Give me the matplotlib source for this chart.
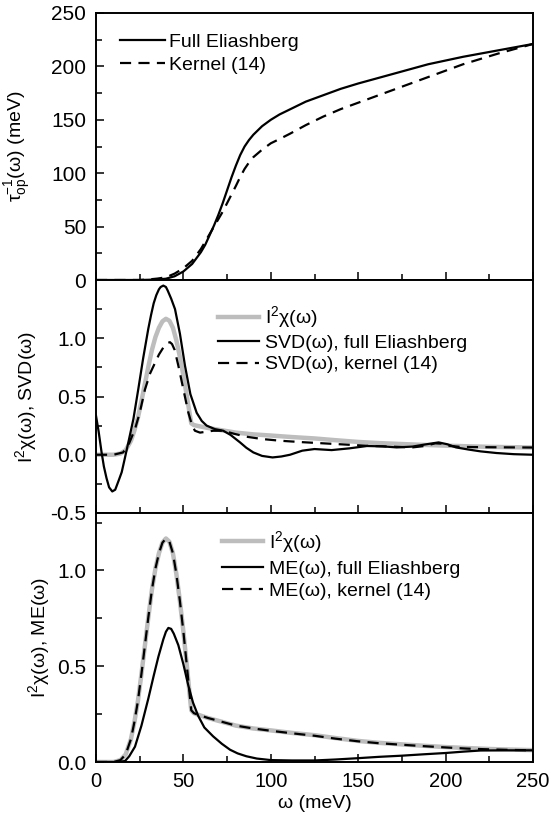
import numpy as np
import matplotlib
matplotlib.use("Agg")
import matplotlib.pyplot as plt
from matplotlib.ticker import MultipleLocator, FixedLocator

plt.rcParams['font.family'] = ['Liberation Sans', 'DejaVu Sans']
plt.rcParams['mathtext.fontset'] = 'custom'
plt.rcParams['mathtext.rm'] = 'Liberation Sans'
plt.rcParams['mathtext.it'] = 'Liberation Sans:italic'
plt.rcParams['mathtext.bf'] = 'Liberation Sans:bold'
plt.rcParams['axes.unicode_minus'] = False

# ---------------- data ----------------
# top panel: optical scattering rate (meV)
w_tau_full = [0, 25, 30, 35, 40, 45, 50, 55, 60, 62.5, 65, 67.5, 70, 72.5, 75,
              77.5, 80, 82.5, 85, 87.5, 90, 95, 100, 105, 110, 120, 130, 140,
              150, 170, 190, 210, 230, 250]
tau_full = [0, 0, 0.2, 0.5, 1.2, 3.5, 8, 15, 26, 33, 42, 51, 61, 72, 84, 96,
            107, 117, 125, 131, 136, 144, 150, 155, 159, 167, 173, 179, 184,
            193, 202, 209, 215, 221]
w_tau_kern = [0, 25, 30, 35, 40, 45, 50, 55, 60, 65, 70, 72.5, 75, 77.5, 80,
              82.5, 85, 87.5, 90, 95, 100, 105, 111, 120, 130, 140, 150, 170,
              190, 210, 230, 250]
tau_kern = [0, 0, 0.5, 1.3, 2.5, 6, 11, 18, 29, 43, 57, 64, 72, 80, 88, 96.5,
            104, 110, 115, 122, 128, 132, 137, 145, 153, 160, 166, 178, 190,
            202, 212, 221]

# input spectrum I^2 chi(w)
w_i2chi = [0, 10, 14, 17, 20, 22, 24, 26, 28, 30, 32, 34, 36, 38, 40, 42, 44,
           46, 48, 50, 52, 53.5, 54.5, 56, 58, 64, 72, 80, 90, 100, 112, 125,
           137, 150, 162, 175, 187, 200, 212, 225, 237, 250]
i2chi = [0, 0, 0.01, 0.04, 0.12, 0.21, 0.32, 0.46, 0.61, 0.76, 0.9, 1.01, 1.09,
         1.145, 1.167, 1.15, 1.09, 0.98, 0.84, 0.68, 0.5, 0.36, 0.27, 0.255,
         0.248, 0.23, 0.21, 0.19, 0.175, 0.165, 0.152, 0.14, 0.125, 0.11, 0.1,
         0.092, 0.085, 0.078, 0.073, 0.068, 0.065, 0.062]

# middle panel: SVD inversions
w_svd_full = [0, 1.5, 3.2, 4.5, 6, 7.5, 9.3, 11, 13, 14.7, 16.5, 18.5, 21.4,
              24.2, 27, 29.9, 31.5, 33, 34.5, 36, 37, 38.5, 40, 41, 43, 45.2,
              48, 50.9, 54, 57.6, 60.5, 63.3, 68, 72.8, 77, 82.4, 86, 90, 95,
              101, 106, 111, 118, 125, 134.8, 145, 155, 164, 172, 181, 189, 196,
              201, 206, 213, 220, 229, 239, 250]
svd_full = [0.335, 0.2, 0.02, -0.1, -0.2, -0.28, -0.315, -0.3, -0.22, -0.15,
            -0.03, 0.106, 0.307, 0.564, 0.83, 1.08, 1.2, 1.3, 1.37, 1.42, 1.44,
            1.452, 1.44, 1.41, 1.34, 1.25, 1.04, 0.765, 0.52, 0.36, 0.29, 0.25,
            0.22, 0.206, 0.17, 0.106, 0.06, 0.02, -0.01, -0.023, -0.015, 0.0,
            0.035, 0.049, 0.04, 0.055, 0.075, 0.072, 0.063, 0.07, 0.09, 0.106,
            0.09, 0.063, 0.045, 0.029, 0.015, 0.005, 0.0]
w_svd_kern = [0, 10, 15.5, 19, 22.3, 25, 28, 31, 33.8, 36, 38.5, 40, 41, 42.3,
              43.5, 45, 47.1, 50, 52.8, 55, 56.6, 59.5, 64.2, 67, 72.8, 79, 86,
              95, 105.6, 118, 130, 142, 155, 168, 181, 188, 194, 198, 202, 208,
              215, 230, 250]
svd_kern = [0, 0, 0.02, 0.1, 0.22, 0.36, 0.56, 0.7, 0.79, 0.86, 0.92, 0.945,
            0.96, 0.966, 0.95, 0.9, 0.765, 0.56, 0.364, 0.25, 0.206, 0.19, 0.2,
            0.206, 0.206, 0.18, 0.155, 0.135, 0.12, 0.108, 0.098, 0.088, 0.077,
            0.07, 0.063, 0.075, 0.098, 0.095, 0.077, 0.068, 0.066, 0.064, 0.062]

# bottom panel: maximum entropy inversions
w_me_full = [0, 12, 16.6, 19, 22.3, 26, 29.9, 33, 35.7, 38.5, 40, 41.4, 43, 44.5,
             47.1, 50, 52.8, 55.5, 58.5, 62, 67, 72, 76.7, 81, 86, 92, 100, 112,
             125, 137, 150, 162, 175, 187, 200, 210, 220, 235, 250]
me_full = [0, 0, 0.005, 0.03, 0.08, 0.19, 0.33, 0.45, 0.55, 0.64, 0.68, 0.70,
           0.695, 0.67, 0.61, 0.51, 0.40, 0.31, 0.24, 0.18, 0.134, 0.095, 0.064,
           0.045, 0.03, 0.018, 0.01, 0.008, 0.008, 0.013, 0.02, 0.027, 0.033,
           0.04, 0.047, 0.054, 0.06, 0.061, 0.061]
w_me_kern = list(w_i2chi)
me_kern = [0, 0, 0.01, 0.04, 0.12, 0.21, 0.32, 0.46, 0.61, 0.76, 0.9, 1.01,
           1.09, 1.145, 1.167, 1.15, 1.09, 0.98, 0.84, 0.68, 0.5, 0.36, 0.27,
           0.255, 0.248, 0.23, 0.21, 0.19, 0.175, 0.163, 0.15, 0.137, 0.122,
           0.108, 0.098, 0.09, 0.083, 0.076, 0.07, 0.066, 0.063, 0.061]

x_ticks = [0, 50, 100, 150, 200, 250]

# ---------------- figure ----------------
W, H = 551, 825
fig = plt.figure(figsize=(W / 100, H / 100), dpi=100)

def add_ax(top_px, bot_px, left_px=96, right_px=533):
    return fig.add_axes([left_px / W, 1 - bot_px / H,
                         (right_px - left_px) / W, (bot_px - top_px) / H])

ax1 = add_ax(13, 280)
ax2 = add_ax(280, 513)
ax3 = add_ax(513, 762)

FS = 14
GRAY = '#bdbdbd'
DASH = (0, (5, 3.3))
LW = 1.6

for ax in (ax1, ax2, ax3):
    ax.set_xlim(0, 250)
    ax.xaxis.set_major_locator(FixedLocator(x_ticks))
    ax.xaxis.set_minor_locator(MultipleLocator(25))
    ax.tick_params(which='both', direction='in', top=False, right=False,
                   width=1.1)
    ax.tick_params(axis='y', labelsize=15, pad=7)
    ax.tick_params(axis='x', labelsize=14.5, pad=7)
    ax.tick_params(which='major', length=6)
    ax.tick_params(which='minor', length=4)
    for s in ax.spines.values():
        s.set_linewidth(1.4)

ax1.tick_params(labelbottom=False)
ax2.tick_params(labelbottom=False)

# top panel
ax1.plot(w_tau_full, tau_full, color='black', lw=LW, label='Full Eliashberg')
ax1.plot(w_tau_kern, tau_kern, color='black', lw=LW, ls=DASH, label='Kernel (14)')
ax1.set_ylim(0, 250)
ax1.yaxis.set_major_locator(MultipleLocator(50))
ax1.yaxis.set_minor_locator(MultipleLocator(25))
ax1.set_ylabel(r'τ$^{-1}_{\mathrm{op}}$(ω) (meV)', fontsize=FS)
ax1.yaxis.set_label_coords(-0.144, 0.5)
ax1.legend(loc='upper left', bbox_to_anchor=(0.055, 0.925), frameon=False,
           fontsize=FS, handlelength=2.3, handletextpad=0.2, labelspacing=0.3,
           borderpad=0, borderaxespad=0)

# middle panel
ax2.plot(w_i2chi, i2chi, color=GRAY, lw=3.2, label=r'I$^2$χ(ω)')
ax2.plot(w_svd_full, svd_full, color='black', lw=LW, label='SVD(ω), full Eliashberg')
ax2.plot(w_svd_kern, svd_kern, color='black', lw=LW, ls=DASH, label='SVD(ω), kernel (14)')
ax2.set_ylim(-0.5, 1.5)
ax2.yaxis.set_major_locator(FixedLocator([-0.5, 0.0, 0.5, 1.0]))
ax2.yaxis.set_minor_locator(FixedLocator([-0.25, 0.25, 0.75, 1.25]))
ax2.set_yticklabels(['-0.5', '0.0', '0.5', '1.0'])
ax2.set_ylabel(r'I$^2$χ(ω), SVD(ω)', fontsize=FS)
ax2.yaxis.set_label_coords(-0.13, 0.5)
ax2.legend(loc='upper left', bbox_to_anchor=(0.279, 0.895), frameon=False,
           fontsize=FS, handlelength=2.1, handletextpad=0.3, labelspacing=0.2,
           borderpad=0, borderaxespad=0)

# bottom panel
ax3.plot(w_i2chi, i2chi, color=GRAY, lw=3.2, label=r'I$^2$χ(ω)')
ax3.plot(w_me_full, me_full, color='black', lw=LW, label='ME(ω), full Eliashberg')
ax3.plot(w_me_kern, me_kern, color='black', lw=LW, ls=DASH, label='ME(ω), kernel (14)')
ax3.set_ylim(0, 1.3)
ax3.yaxis.set_major_locator(FixedLocator([0.0, 0.5, 1.0]))
ax3.yaxis.set_minor_locator(FixedLocator([0.25, 0.75, 1.25]))
ax3.set_yticklabels(['0.0', '0.5', '1.0'])
ax3.set_xticklabels([str(t) for t in x_ticks])
ax3.set_ylabel(r'I$^2$χ(ω), ME(ω)', fontsize=FS)
ax3.yaxis.set_label_coords(-0.10, 0.5)
ax3.set_xlabel('ω (meV)', fontsize=FS, labelpad=3)
ax3.legend(loc='upper left', bbox_to_anchor=(0.288, 0.935), frameon=False,
           fontsize=FS, handlelength=2.1, handletextpad=0.3, labelspacing=0.25,
           borderpad=0, borderaxespad=0)

fig.savefig('out.png', dpi=100)
